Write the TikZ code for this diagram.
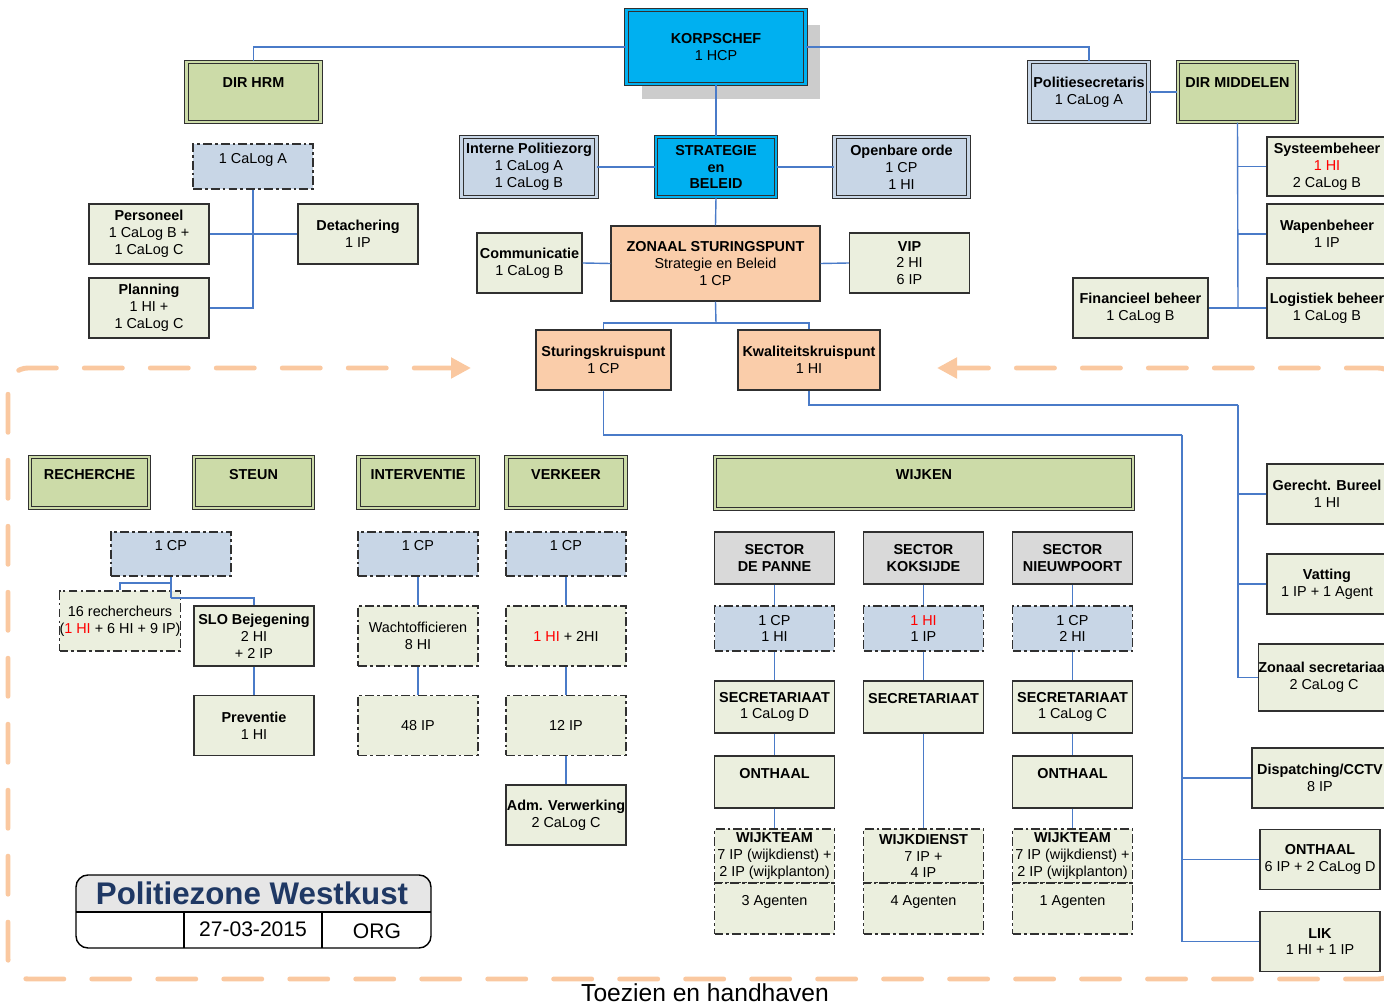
\documentclass[tikz,border=0pt]{standalone}
\usepackage{fontspec}
\setmainfont{Liberation Sans}
\usetikzlibrary{arrows.meta,shadows}
\definecolor{kcyan}{HTML}{00B0F0}
\definecolor{dirgreen}{HTML}{CCDBA8}
\definecolor{palegreen}{HTML}{EBEFDE}
\definecolor{paleblue}{HTML}{C8D6E6}
\definecolor{peach}{HTML}{FACDAA}
\definecolor{sectgray}{HTML}{D9D9D9}
\definecolor{linkblue}{HTML}{4A7BC8}
\definecolor{bordor}{HTML}{FAC8A0}
\definecolor{titleblue}{HTML}{1F3864}
\definecolor{titlegray}{HTML}{E6E6E6}
\definecolor{edge}{HTML}{303030}
\begin{document}
\begin{tikzpicture}[x=0.02cm,y=-0.02cm,
	every node/.style={align=center,inner sep=0pt,font=\fontsize{8.2}{9.6}\selectfont},
	box/.style={draw=edge,line width=0.85pt,fill=palegreen,minimum width=2.4cm,minimum height=1.2cm},
	dbl/.style={draw=edge,line width=0.7pt,double=#1,double distance=1.3pt,fill=#1,minimum width=2.4cm,minimum height=1.2cm},
	dashbox/.style={box,dash pattern=on 5pt off 1.8pt on 1.5pt off 1.8pt},
	top1/.style={text depth=9.6pt},
	link/.style={draw=linkblue,line width=0.8pt},
	orborder/.style={draw=bordor,line width=2.8pt,line cap=round,dash pattern=on 0.76cm off 0.56cm,rounded corners=0.4cm},
	]
	\useasboundingbox (0,0) rectangle (1384,1006);
	\clip (0,0) rectangle (1384,1006);
	% dashed frame
	\draw[orborder,{Triangle[length=0.4cm,width=0.4cm]}-{Triangle[length=0.4cm,width=0.4cm]}] (471,368) -- (8,368) -- (8,979) -- (1398,979) -- (1398,368) -- (937,368);
	% top
	\node[dbl=kcyan,minimum width=3.58cm,minimum height=1.48cm,drop shadow={shadow xshift=0.3cm,shadow yshift=-0.3cm,fill=black!20,opacity=1}] (korps) at (716,47){\textbf{KORPSCHEF}\\1 HCP};
	\node[dbl=dirgreen,minimum width=2.68cm,text depth=11pt] (dirhrm) at (253.5,92){\textbf{DIR HRM}};
	\node[dbl=paleblue,minimum width=2.38cm] (polsec) at (1089,92){\textbf{Politiesecretaris}\\1 CaLog A};
	\node[dbl=dirgreen,minimum width=2.38cm,text depth=11pt] (dirmid) at (1237.5,92){\textbf{DIR MIDDELEN}};
	% hrm
	\node[dashbox,fill=paleblue,minimum height=0.9cm,top1] (hrmstaf) at (253,166.5){1 CaLog A};
	\node[box] (pers) at (149,234){\textbf{Personeel}\\1 CaLog B +\\1 CaLog C};
	\node[box] (detach) at (358,234){\textbf{Detachering}\\1 IP};
	\node[box] (plan) at (149,308){\textbf{Planning}\\1 HI +\\1 CaLog C};
	% strategie
	\node[dbl=paleblue,minimum width=2.7cm] (intpol) at (529,167){\textbf{Interne Politiezorg}\\1 CaLog A\\1 CaLog B};
	\node[dbl=kcyan] (strat) at (716,167){\textbf{STRATEGIE}\\\textbf{en}\\\textbf{BELEID}};
	\node[dbl=paleblue,minimum width=2.68cm] (openb) at (901.5,167){\textbf{Openbare orde}\\1 CP\\1 HI};
	\node[box,fill=peach,minimum width=4.18cm,minimum height=1.5cm] (zonaal) at (715.5,263.5){\textbf{ZONAAL STURINGSPUNT}\\Strategie en Beleid\\1 CP};
	\node[box,minimum width=2.1cm] (comm) at (529.5,263){\textbf{Communicatie}\\1 CaLog B};
	\node[box] (vip) at (909.5,263){\textbf{VIP}\\2 HI\\6 IP};
	\node[box,fill=peach,minimum width=2.7cm] (sturing) at (603.5,360){\textbf{Sturingskruispunt}\\1 CP};
	\node[box,fill=peach,minimum width=2.84cm] (kwal) at (809,360){\textbf{Kwaliteitskruispunt}\\1 HI};
	% middelen
	\node[box,minimum height=1.18cm] (syst) at (1327,166.5){\textbf{Systeembeheer}\\\textcolor{red}{1 HI}\\2 CaLog B};
	\node[box] (wapen) at (1327,234){\textbf{Wapenbeheer}\\1 IP};
	\node[box,minimum width=2.7cm] (fin) at (1140.5,308){\textbf{Financieel beheer}\\1 CaLog B};
	\node[box] (logist) at (1327,308){\textbf{Logistiek beheer}\\1 CaLog B};
	% rechts
	\node[box] (ger) at (1327,494){\textbf{Gerecht. Bureel}\\1 HI};
	\node[box] (vat) at (1327,584){\textbf{Vatting}\\1 IP + 1 Agent};
	\node[box,minimum width=2.56cm,minimum height=1.34cm] (zsec) at (1324,677.5){\textbf{Zonaal secretariaat}\\2 CaLog C};
	\node[box,minimum width=2.72cm] (disp) at (1320,778){\textbf{Dispatching/CCTV}\\8 IP};
	\node[box] (onthz) at (1320,859.5){\textbf{ONTHAAL}\\6 IP + 2 CaLog D};
	\node[box] (lik) at (1320,941.5){\textbf{LIK}\\1 HI + 1 IP};
	% diensten
	\node[dbl=dirgreen,minimum width=2.38cm,minimum height=1.02cm,top1] (rech) at (89.5,482.5){\textbf{RECHERCHE}};
	\node[dbl=dirgreen,minimum width=2.38cm,minimum height=1.02cm,top1] (steun) at (253.5,482.5){\textbf{STEUN}};
	\node[dbl=dirgreen,minimum width=2.38cm,minimum height=1.02cm,top1] (interv) at (418,482.5){\textbf{INTERVENTIE}};
	\node[dbl=dirgreen,minimum width=2.38cm,minimum height=1.02cm,top1] (verk) at (566,482.5){\textbf{VERKEER}};
	\node[dbl=dirgreen,minimum width=8.36cm,minimum height=1.04cm,top1] (wijken) at (924,483){\textbf{WIJKEN}};
	\node[dashbox,fill=paleblue,minimum height=0.88cm,top1] (rcp) at (171,554){1 CP};
	\node[dashbox] (rechr) at (120,621){16 rechercheurs\\(\textcolor{red}{1 HI} + 6 HI + 9 IP)};
	\node[box] (slo) at (254,636){\textbf{SLO Bejegening}\\2 HI\\+ 2 IP};
	\node[box] (prev) at (254,725.5){\textbf{Preventie}\\1 HI};
	\node[dashbox,fill=paleblue,minimum height=0.88cm,top1] (icp) at (418,554){1 CP};
	\node[dashbox] (wacht) at (418,636){Wachtofficieren\\8 HI};
	\node[dashbox] (i48) at (418,725.5){48 IP};
	\node[dashbox,fill=paleblue,minimum height=0.88cm,top1] (vcp) at (566,554){1 CP};
	\node[dashbox] (vhi) at (566,636){\textcolor{red}{1 HI} + 2HI};
	\node[dashbox] (v12) at (566,725.5){12 IP};
	\node[box] (adm) at (566,815){\textbf{Adm. Verwerking}\\2 CaLog C};
	% wijken
	\node[box,fill=sectgray,minimum height=1.04cm] (dpsec) at (774.5,558){\textbf{SECTOR}\\\textbf{DE PANNE}};
	\node[box,fill=sectgray,minimum height=1.04cm] (kssec) at (923.5,558){\textbf{SECTOR}\\\textbf{KOKSIJDE}};
	\node[box,fill=sectgray,minimum height=1.04cm] (nwsec) at (1072.5,558){\textbf{SECTOR}\\\textbf{NIEUWPOORT}};
	\node[dashbox,fill=paleblue,minimum height=0.9cm] (dpcp) at (774.5,628.5){1 CP\\1 HI};
	\node[dashbox,fill=paleblue,minimum height=0.9cm] (kscp) at (923.5,628.5){\textcolor{red}{1 HI}\\1 IP};
	\node[dashbox,fill=paleblue,minimum height=0.9cm] (nwcp) at (1072.5,628.5){1 CP\\2 HI};
	\node[box,minimum height=1.04cm] (dpsecr) at (774.5,707){\textbf{SECRETARIAAT}\\1 CaLog D};
	\node[box,minimum height=1.04cm,top1] (kssecr) at (923.5,707){\textbf{SECRETARIAAT}};
	\node[box,minimum height=1.04cm] (nwsecr) at (1072.5,707){\textbf{SECRETARIAAT}\\1 CaLog C};
	\node[box,minimum height=1.04cm,top1] (dpont) at (774.5,782){\textbf{ONTHAAL}};
	\node[box,minimum height=1.04cm,top1] (nwont) at (1072.5,782){\textbf{ONTHAAL}};
	\node[dashbox,minimum height=1.08cm] (dpteam) at (774.5,856){\textbf{WIJKTEAM}\\7 IP (wijkdienst) +\\2 IP (wijkplanton)};
	\node[dashbox,minimum height=1.08cm] (ksteam) at (923.5,856){\textbf{WIJKDIENST}\\7 IP +\\4 IP};
	\node[dashbox,minimum height=1.08cm] (nwteam) at (1072.5,856){\textbf{WIJKTEAM}\\7 IP (wijkdienst) +\\2 IP (wijkplanton)};
	\node[dashbox,minimum height=1.02cm,top1] (dpag) at (774.5,908.5){3 Agenten};
	\node[dashbox,minimum height=1.02cm,top1] (ksag) at (923.5,908.5){4 Agenten};
	\node[dashbox,minimum height=1.02cm,top1] (nwag) at (1072.5,908.5){1 Agenten};
	% links
	\coordinate (zj) at (716,323);
	\coordinate (sbus) at (1182,435);
	\coordinate (kbus) at (1238,405);
	\coordinate (mbus) at (1238,308);
	\coordinate (rj1) at (171,583);
	\coordinate (rj2) at (171,598);
	\draw[link] (korps.west) -| (dirhrm.north);
	\draw[link] (korps.east) -| (polsec.north);
	\draw[link] (korps.south) -- (strat.north);
	\draw[link] (intpol.east) -- (strat.west);
	\draw[link] (strat.east) -- (openb.west);
	\draw[link] (strat.south) -- (zonaal.north);
	\draw[link] (comm.east) -- (zonaal.west);
	\draw[link] (zonaal.east) -- (vip.west);
	\draw[link] (zonaal.south) -- (zj);
	\draw[link] (zj) -| (sturing.north);
	\draw[link] (zj) -| (kwal.north);
	\draw[link] (hrmstaf.south) |- (plan.east);
	\draw[link] (pers.east) -- (detach.west);
	\draw[link] (polsec.east) -- (dirmid.west);
	\draw[link] (dirmid.south) -- (mbus);
	\draw[link] (dirmid.south) |- (syst.west);
	\draw[link] (dirmid.south) |- (wapen.west);
	\draw[link] (fin.east) -- (logist.west);
	\draw[link] (sturing.south) |- (sbus);
	\draw[link] (sbus) |- (disp.west);
	\draw[link] (sbus) |- (onthz.west);
	\draw[link] (sbus) |- (lik.west);
	\draw[link] (kwal.south) |- (kbus);
	\draw[link] (kbus) |- (ger.west);
	\draw[link] (kbus) |- (vat.west);
	\draw[link] (kbus) |- (zsec.west);
	\draw[link] (rcp.south) -- (rj2);
	\draw[link] (rj1) -| (rechr.north);
	\draw[link] (rj2) -| (slo.north);
	\draw[link] (slo.south) -- (prev.north);
	\draw[link] (icp.south) -- (wacht.north);
	\draw[link] (wacht.south) -- (i48.north);
	\draw[link] (vcp.south) -- (vhi.north);
	\draw[link] (vhi.south) -- (v12.north);
	\draw[link] (v12.south) -- (adm.north);
	\draw[link] (dpsec.south) -- (dpcp.north);
	\draw[link] (dpcp.south) -- (dpsecr.north);
	\draw[link] (dpsecr.south) -- (dpont.north);
	\draw[link] (dpont.south) -- (dpteam.north);
	\draw[link] (kssec.south) -- (kscp.north);
	\draw[link] (kscp.south) -- (kssecr.north);
	\draw[link] (kssecr.south) -- (ksteam.north);
	\draw[link] (nwsec.south) -- (nwcp.north);
	\draw[link] (nwcp.south) -- (nwsecr.north);
	\draw[link] (nwsecr.south) -- (nwont.north);
	\draw[link] (nwont.south) -- (nwteam.north);
	% titel
	\begin{scope}
		\clip[rounded corners=0.24cm] (76,875) rectangle (431,948);
		\fill[titlegray] (76,875) rectangle (431,912);
	\end{scope}
	\draw[line width=0.8pt,rounded corners=0.24cm] (76,875) rectangle (431,948);
	\draw[line width=0.8pt] (76,912) -- (431,912);
	\draw[line width=0.8pt] (184,912) -- (184,948);
	\draw[line width=0.8pt] (322,912) -- (322,948);
	\node[font=\fontsize{17.8}{20}\selectfont\bfseries,text=titleblue] (tname) at (252,893){Politiezone Westkust};
	\node[font=\fontsize{12}{14}\selectfont] (tdate) at (253,929){27-03-2015};
	\node[font=\fontsize{12}{14}\selectfont] (torg) at (377,931){ORG};
	\node[font=\fontsize{14}{16}\selectfont] (tzh) at (705,993){Toezien en handhaven};
\end{tikzpicture}
\end{document}
